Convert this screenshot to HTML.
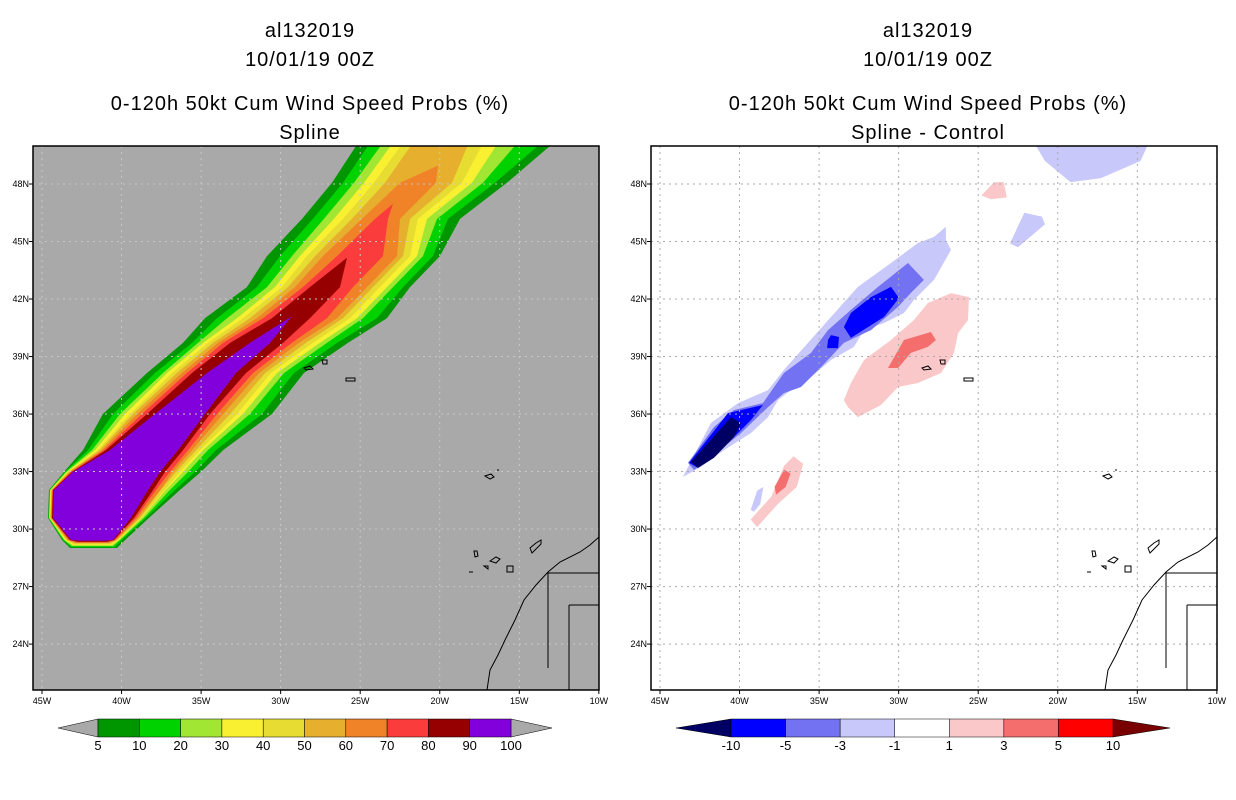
<!DOCTYPE html>
<html><head><meta charset="utf-8"><style>
body{margin:0;background:#fff;}
svg{display:block;font-family:"Liberation Sans",sans-serif;}
</style></head><body>
<svg id="svg" width="1236" height="800" xmlns="http://www.w3.org/2000/svg">
<g id="titles" fill="#000" font-size="20" text-anchor="middle" letter-spacing="1">
<text x="310" y="37">al132019</text>
<text x="310" y="66">10/01/19 00Z</text>
<text x="310" y="110">0-120h 50kt Cum Wind Speed Probs (%)</text>
<text x="310" y="139">Spline</text>
<text x="928" y="37">al132019</text>
<text x="928" y="66">10/01/19 00Z</text>
<text x="928" y="110">0-120h 50kt Cum Wind Speed Probs (%)</text>
<text x="928" y="139">Spline - Control</text>
</g>
<defs>
<clipPath id="clipL"><rect x="33" y="146" width="566" height="544"/></clipPath>
<clipPath id="clipR"><rect x="651" y="146" width="566" height="544"/></clipPath>
</defs>
<rect x="33" y="146" width="566" height="544" fill="#a9a9a9"/>
<g id="left" clip-path="url(#clipL)"></g>
<rect x="651" y="146" width="566" height="544" fill="#fff"/>
<g id="right" clip-path="url(#clipR)"></g>
<rect x="33" y="146" width="566" height="544" fill="none" stroke="#000" stroke-width="1.5"/>
<rect x="651" y="146" width="566" height="544" fill="none" stroke="#000" stroke-width="1.5"/>
<g id="axes" font-size="9" fill="#000"></g>
<g id="cbars" font-size="13" fill="#000" text-anchor="middle"></g>
</svg>
<script>
const lonTicks=[-45,-40,-35,-30,-25,-20,-15,-10];
const lonLabels=["45W","40W","35W","30W","25W","20W","15W","10W"];
const latTicks=[48,45,42,39,36,33,30,27,24];
const latLabels=["48N","45N","42N","39N","36N","33N","30N","27N","24N"];
const probLevels=[5,10,20,30,40,50,60,70,80,90];
const probColors=["#009600","#00d200","#a0e632","#faf032","#e6dc32","#e6af2d","#f08228","#fa3c3c","#960000","#8200dc"];
const probLabels=["5","10","20","30","40","50","60","70","80","90","100"];
const rowLats=[50.3,48.06,46.18,44.24,42.62,41.0,39.71,38.14,36.0,34.12,32.98,32.04,30.58,29.43];
const l5L=[-25.01,-26.77,-28.66,-30.86,-32.12,-34.76,-36.14,-38.40,-41.17,-42.42,-43.62,-44.56,-44.62,-43.74];
const l5R=[-12.63,-15.78,-18.73,-19.99,-21.87,-23.32,-25.77,-28.54,-30.55,-33.62,-35.01,-36.33,-38.28,-39.78];
const l10L=[-24.26,-26.08,-27.97,-30.04,-31.49,-34.0,-35.57,-37.90,-40.54,-42.11,-43.56,-44.53,-44.59,-43.68];
const l10R=[-13.39,-16.53,-19.48,-20.43,-22.31,-23.95,-26.46,-29.16,-31.18,-34.07,-35.38,-36.64,-38.46,-39.97];
const l20L=[-23.44,-25.39,-27.28,-29.29,-30.86,-33.37,-35.20,-37.40,-40.10,-41.86,-43.49,-44.50,-44.56,-43.62];
const l20R=[-14.96,-17.28,-20.17,-21.05,-22.94,-24.83,-27.09,-29.79,-31.93,-34.57,-35.82,-36.96,-38.59,-40.10];
const l30L=[-22.81,-24.76,-26.65,-28.79,-30.36,-32.74,-34.88,-37.14,-39.78,-41.67,-43.43,-44.47,-44.53,-43.56];
const l30R=[-16.22,-17.98,-20.80,-21.43,-23.32,-25.20,-27.53,-30.23,-32.37,-34.88,-36.14,-37.21,-38.72,-40.16];
const l40L=[-22.19,-24.13,-26.08,-28.35,-29.92,-32.37,-34.57,-36.83,-39.47,-41.48,-43.37,-44.43,-44.50,-43.49];
const l40R=[-17.16,-18.60,-21.37,-21.87,-23.76,-25.64,-27.97,-30.61,-32.74,-35.07,-36.33,-37.27,-38.78,-40.22];
const l50L=[-21.56,-23.44,-25.52,-27.84,-29.54,-31.93,-34.25,-36.52,-39.28,-41.36,-43.30,-44.40,-44.47,-43.43];
const l50R=[-18.10,-19.23,-21.87,-22.31,-24.20,-26.08,-28.41,-30.98,-33.18,-35.32,-36.58,-37.52,-38.84,-40.29];
const l60L=[-22.50,-24.89,-27.34,-29.10,-31.49,-33.94,-36.20,-39.03,-41.23,-43.24,-44.37,-44.43,-43.37];
const l60R=[-20.24,-22.50,-22.69,-24.57,-26.46,-28.85,-31.36,-33.62,-35.57,-36.77,-37.58,-38.97,-40.35];
const l70L=[-24.07,-26.46,-28.60,-31.11,-33.62,-35.89,-38.72,-41.10,-43.18,-44.34,-44.40,-43.30];
const l70R=[-23.25,-23.57,-25.45,-27.09,-29.29,-31.74,-34.0,-35.82,-36.96,-37.84,-39.09,-40.42];
const l80L=[-28.16,-30.55,-33.18,-35.57,-38.40,-40.98,-43.11,-44.31,-44.37,-43.24];
const l80R=[-26.27,-28.16,-29.85,-32.18,-34.44,-36.14,-37.27,-38.02,-39.22,-40.48];
const l90L=[-31.93,-34.63,-37.90,-40.73,-43.05,-44.25,-44.31,-43.18];
const l90R=[-30.67,-32.81,-34.76,-36.45,-37.58,-38.34,-39.41,-40.54];
const tips=[null,null,null,null,null,null,[-20.11,48.96],[-22.94,46.97],[-25.83,44.15],[-29.29,41.1]];
const bottoms=[[-43.24,-40.29,29.01],[-43.18,-40.42,29.06],[-43.11,-40.54,29.11],[-43.05,-40.61,29.16],[-42.99,-40.67,29.2],[-42.93,-40.73,29.25],[-42.86,-40.79,29.28],[-42.80,-40.85,29.31],[-42.74,-40.92,29.34],[-42.61,-41.04,29.39]];
const edgesL=[l5L,l10L,l20L,l30L,l40L,l50L,l60L,l70L,l80L,l90L];
const edgesR=[l5R,l10R,l20R,l30R,l40R,l50R,l60R,l70R,l80R,l90R];

const diffLevels=[-10,-5,-3,-1,1,3,5,10];
const diffColors=["#000064","#0000ff","#7272f2","#c8c8fa","#ffffff","#fac8c8","#f46e6e","#ff0000","#780000"];
const dLight=[[-43.56,32.72],[-41.80,35.53],[-40.10,36.57],[-38.21,37.25],[-37.21,38.30],[-35.70,39.71],[-34.25,41.06],[-32.56,42.63],[-30.48,43.88],[-28.79,44.92],[-27.78,45.24],[-27.03,45.76],[-27.03,45.08],[-26.71,44.56],[-27.78,43.00],[-29.04,41.95],[-29.67,41.27],[-30.92,40.75],[-32.18,40.38],[-32.81,39.50],[-34.25,38.82],[-35.51,37.93],[-36.77,37.25],[-37.58,36.73],[-38.21,35.84],[-39.28,35.01],[-40.98,34.12],[-42.42,33.24]];
const dLightNE1=[[-21.6,50.3],[-14.2,50.3],[-14.8,49.2],[-17.3,48.3],[-19.2,48.1],[-20.8,49.2]];
const dLightNE2=[[-23.0,44.9],[-22.1,46.5],[-21.0,46.3],[-20.8,45.9],[-22.5,44.7]];
const dLightSW=[[-39.3,31.0],[-38.9,32.0],[-38.5,32.2],[-38.7,31.3],[-39.1,30.9]];
const dMed=[[-43.24,33.45],[-41.61,35.32],[-40.35,36.21],[-38.53,36.57],[-37.21,38.14],[-35.51,39.19],[-34.44,40.38],[-33.00,41.43],[-31.30,42.63],[-29.41,43.88],[-28.41,43.00],[-29.23,42.32],[-30.04,41.59],[-31.74,40.38],[-33.44,39.71],[-34.88,38.45],[-36.14,37.41],[-37.21,37.09],[-38.21,36.36],[-39.91,35.01],[-41.98,33.61],[-42.86,33.08]];
const dBlue1=[[-33.44,40.54],[-33.00,41.27],[-31.74,42.10],[-30.48,42.63],[-29.98,42.05],[-30.92,41.06],[-33.00,39.97]];
const dBlue2=[[-34.44,39.86],[-34.25,40.12],[-33.75,40.02],[-33.81,39.44],[-34.50,39.44]];
const dBlue3=[[-43.18,33.45],[-40.73,36.05],[-38.53,36.47],[-39.28,35.69],[-40.35,34.80],[-41.98,33.61],[-42.61,33.19]];
const dNavy=[[-43.05,33.50],[-40.54,35.84],[-39.91,35.53],[-40.35,34.80],[-41.61,33.71],[-42.61,33.19]];
const dPink1=[[-33.44,36.73],[-33.00,37.62],[-32.18,38.82],[-30.48,39.86],[-29.04,40.90],[-28.16,41.79],[-26.71,42.31],[-25.58,42.10],[-25.64,40.90],[-26.27,40.22],[-26.52,39.19],[-27.34,38.14],[-28.79,37.62],[-30.04,37.41],[-31.11,36.47],[-32.56,35.84],[-33.19,36.36]];
const dPink2=[[-39.3,30.5],[-38.0,31.7],[-37.2,33.3],[-36.6,33.8],[-36.0,33.4],[-36.4,32.2],[-37.6,31.3],[-38.9,30.1]];
const dPink3=[[-24.8,47.4],[-24.0,48.1],[-23.4,48.1],[-23.2,47.3],[-24.2,47.2]];
const dRed1=[[-30.67,38.40],[-29.67,39.86],[-27.97,40.28],[-27.66,39.86],[-28.16,39.50],[-29.23,39.19],[-30.04,38.40]];
const dRed2=[[-37.8,32.2],[-37.2,33.1],[-36.8,32.9],[-37.1,32.2],[-37.7,31.8]];
const diffPolys=[[dLight,3],[dLightNE1,3],[dLightNE2,3],[dLightSW,3],[dMed,2],[dBlue1,1],[dBlue2,1],[dBlue3,1],[dNavy,0],[dPink1,5],[dPink2,5],[dPink3,5],[dRed1,6],[dRed2,6]];

const NS="http://www.w3.org/2000/svg";
function mk(tag,attrs,parent){const e=document.createElementNS(NS,tag);for(const k in attrs)e.setAttribute(k,attrs[k]);parent.appendChild(e);return e;}
function xL(lon){return 42+(lon+45)*15.91;}
function yL(lat){return 184+(48-lat)*19.17;}
function pts(poly,off){return poly.map(p=>(xL(p[0])+off).toFixed(1)+","+yL(p[1]).toFixed(1)).join(" ");}
const gL=document.getElementById('left'),gR=document.getElementById('right');
probLevels.forEach((lev,i)=>{
  const L=edgesL[i],R=edgesR[i];
  const lats=rowLats.slice(rowLats.length-L.length);
  const poly=[];
  if(tips[i])poly.push(tips[i]);
  L.forEach((lon,j)=>poly.push([lon,lats[j]]));
  poly.push([bottoms[i][0],bottoms[i][2]]);
  poly.push([bottoms[i][1],bottoms[i][2]]);
  for(let j=R.length-1;j>=0;j--)poly.push([R[j],lats[j]]);
  const e=mk('polygon',{points:pts(poly,0),fill:probColors[i]},gL);
  
  
});
diffPolys.forEach((d,i)=>{
  const e=mk('polygon',{points:pts(d[0],618),fill:diffColors[d[1]]},gR);
  
  
});
[[gL,0,"#c8c8c8"],[gR,618,"#aaaaaa"]].forEach(([g,off,gc])=>{
  lonTicks.forEach(l=>{const x=xL(l)+off;const e=mk('line',{x1:x,y1:146,x2:x,y2:690,stroke:gc,'stroke-width':1,'stroke-dasharray':'2,4'},g);
    
    });
  latTicks.forEach(l=>{const y=yL(l);const e=mk('line',{x1:33+off,y1:y,x2:599+off,y2:y,stroke:gc,'stroke-width':1,'stroke-dasharray':'2,4'},g);
    
    });
  const c=mk('g',{transform:'translate('+off+',0)',fill:'none',stroke:'#000','stroke-width':1},g);
  
  
  mk('path',{d:'M599,537 L590,545 L580,552 L560,562 L548,572 L536,585 L524,600 L515,620 L505,640 L498,655 L490,670 L487,690'},c);
  mk('path',{d:'M548,573 L599,573 M569,605 L599,605 M569,605 L569,690 M548,573 L548,668'},c);
  mk('path',{d:'M304,368 l6,-2 l3,3 l-7,1 z M322,360 l5,0 l0,4 l-4,0 z M346,378 l9,0 l0,3 l-9,0 z M485,476 l6,-2 l3,3 l-4,2 z M497,470 l2,0 M474,551 l3,0 l1,5 l-3,1 z M490,561 l6,-4 l4,2 l-4,4 z M507,566 l6,0 l0,6 l-6,0 z M530,548 l6,-5 l5,-3 l0,4 l-6,6 l-3,3 z M469,572 l4,0 M484,566 l4,0 l0,3 z'},c);
});
const ax=document.getElementById('axes');
[0,618].forEach(off=>{
  lonTicks.forEach((l,i)=>{const t=mk('text',{x:xL(l)+off,y:704,'text-anchor':'middle'},ax);t.textContent=lonLabels[i];
    
    
    mk('line',{x1:xL(l)+off,y1:690,x2:xL(l)+off,y2:694,stroke:'#000'},ax);});
  latTicks.forEach((l,i)=>{const t=mk('text',{x:29+off,y:yL(l)+3,'text-anchor':'end'},ax);t.textContent=latLabels[i];
    
    
    mk('line',{x1:29+off,y1:yL(l),x2:33+off,y2:yL(l),stroke:'#000'},ax);});
});
const cb=document.getElementById('cbars');
function colorbar(x0,x1,xa,xb,colors,leftC,rightC,labels,name){
  const g=mk('g',{},cb);
  
  
  const y0=719,y1=737,ym=728;
  mk('polygon',{points:`${x0},${ym} ${xa},${y0} ${xa},${y1}`,fill:leftC,stroke:'#000','stroke-width':0.5},g);
  mk('polygon',{points:`${x1},${ym} ${xb},${y0} ${xb},${y1}`,fill:rightC,stroke:'#000','stroke-width':0.5},g);
  const n=colors.length,w=(xb-xa)/n;
  colors.forEach((c,i)=>{const r=mk('rect',{x:xa+i*w,y:y0,width:w,height:y1-y0,fill:c,stroke:'#000','stroke-width':0.5},g);
    
    });
  labels.forEach((l,i)=>{const t=mk('text',{x:xa+i*w,y:750},g);t.textContent=l;
    
    });
}
colorbar(58,552,98,511,probColors,"#a9a9a9","#a9a9a9",probLabels,'prob-colorbar');
colorbar(676,1170,731,1113,diffColors.slice(1,8),diffColors[0],diffColors[8],diffLevels.map(String),'diff-colorbar');
</script>
</body></html>
